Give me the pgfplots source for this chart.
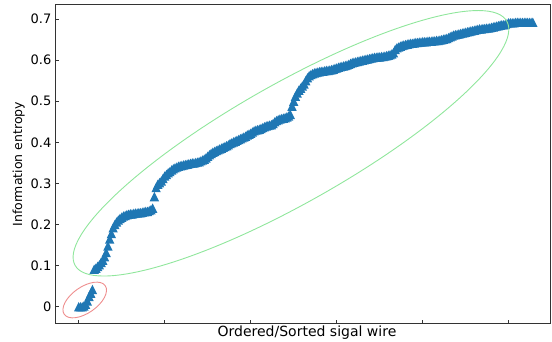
\documentclass[border=0pt]{standalone}
\usepackage{pgfplots}
\pgfplotsset{compat=1.18}
\usepackage{pgfplotstable}
\usepackage{fontspec}
\setmainfont{DejaVu Sans}

\definecolor{mplblue}{HTML}{1F77B4}
\definecolor{ringred}{HTML}{EE8E8E}
\definecolor{ringgreen}{HTML}{90E69C}

% upward triangle whose base is as wide as it is tall
\pgfdeclareplotmark{uptri}{%
  \pgfpathmoveto{\pgfqpoint{0pt}{\pgfplotmarksize}}%
  \pgfpathlineto{\pgfqpoint{-\pgfplotmarksize}{-\pgfplotmarksize}}%
  \pgfpathlineto{\pgfqpoint{\pgfplotmarksize}{-\pgfplotmarksize}}%
  \pgfpathclose
  \pgfusepathqfill}

\newcommand{\tickfont}{\fontsize{13}{15}\selectfont}
\newcommand{\ylabfont}{\fontsize{12.5}{15}\selectfont}
\newcommand{\xlabfont}{\fontsize{14}{16}\selectfont}

% information entropy of each signal wire, in sorted order
\pgfplotstableread{
x y
0 0.000
1 0.000
2 0.000
3 0.002
4 0.006
5 0.014
6 0.025
7 0.033
8 0.042
9 0.091
10 0.094
11 0.098
12 0.102
13 0.108
14 0.113
15 0.122
16 0.132
17 0.148
18 0.165
19 0.178
20 0.192
21 0.200
22 0.206
23 0.211
24 0.215
25 0.218
26 0.221
27 0.222
28 0.224
29 0.225
30 0.226
31 0.226
32 0.227
33 0.228
34 0.228
35 0.229
36 0.229
37 0.230
38 0.231
39 0.232
40 0.232
41 0.234
42 0.236
43 0.240
44 0.268
45 0.290
46 0.298
47 0.302
48 0.306
49 0.312
50 0.318
51 0.322
52 0.326
53 0.329
54 0.333
55 0.336
56 0.338
57 0.340
58 0.342
59 0.343
60 0.344
61 0.345
62 0.346
63 0.347
64 0.348
65 0.349
66 0.350
67 0.350
68 0.351
69 0.352
70 0.353
71 0.355
72 0.357
73 0.359
74 0.362
75 0.366
76 0.370
77 0.373
78 0.376
79 0.378
80 0.380
81 0.382
82 0.384
83 0.386
84 0.388
85 0.390
86 0.392
87 0.394
88 0.397
89 0.399
90 0.401
91 0.403
92 0.405
93 0.407
94 0.409
95 0.411
96 0.413
97 0.415
98 0.418
99 0.420
100 0.422
101 0.425
102 0.428
103 0.430
104 0.431
105 0.432
106 0.434
107 0.436
108 0.438
109 0.440
110 0.441
111 0.442
112 0.443
113 0.446
114 0.450
115 0.453
116 0.455
117 0.457
118 0.458
119 0.459
120 0.460
121 0.462
122 0.464
123 0.468
124 0.488
125 0.500
126 0.512
127 0.520
128 0.527
129 0.532
130 0.537
131 0.542
132 0.550
133 0.557
134 0.562
135 0.565
136 0.567
137 0.569
138 0.570
139 0.571
140 0.572
141 0.573
142 0.573
143 0.574
144 0.575
145 0.575
146 0.576
147 0.577
148 0.578
149 0.580
150 0.581
151 0.583
152 0.584
153 0.585
154 0.586
155 0.587
156 0.588
157 0.590
158 0.592
159 0.594
160 0.595
161 0.596
162 0.597
163 0.598
164 0.599
165 0.600
166 0.601
167 0.602
168 0.603
169 0.604
170 0.605
171 0.606
172 0.607
173 0.607
174 0.608
175 0.608
176 0.609
177 0.609
178 0.610
179 0.611
180 0.612
181 0.613
182 0.615
183 0.618
184 0.626
185 0.630
186 0.632
187 0.634
188 0.636
189 0.637
190 0.638
191 0.639
192 0.640
193 0.641
194 0.641
195 0.642
196 0.643
197 0.643
198 0.644
199 0.644
200 0.645
201 0.645
202 0.645
203 0.646
204 0.646
205 0.646
206 0.647
207 0.647
208 0.648
209 0.648
210 0.649
211 0.650
212 0.651
213 0.652
214 0.653
215 0.655
216 0.657
217 0.659
218 0.661
219 0.662
220 0.663
221 0.664
222 0.665
223 0.666
224 0.667
225 0.668
226 0.669
227 0.670
228 0.671
229 0.672
230 0.673
231 0.674
232 0.675
233 0.676
234 0.676
235 0.677
236 0.677
237 0.678
238 0.678
239 0.679
240 0.680
241 0.681
242 0.682
243 0.683
244 0.684
245 0.685
246 0.686
247 0.686
248 0.687
249 0.689
250 0.691
251 0.691
252 0.691
253 0.691
254 0.692
255 0.692
256 0.692
257 0.692
258 0.692
259 0.692
260 0.692
261 0.692
262 0.692
263 0.692
264 0.692
}\entropy

\begin{document}
\begin{tikzpicture}
\begin{axis}[
  scale only axis,
  width=494pt, height=319.5pt,
  xmin=-13.2, xmax=274.0,
  ymin=-0.0421, ymax=0.7353,
  xtick={0,50,100,150,200,250},
  xticklabels={},
  ytick={0,0.1,0.2,0.3,0.4,0.5,0.6,0.7},
  tick align=inside,
  xtick pos=left, ytick pos=left,
  major tick length=3.5pt,
  tick style={black!80, line width=0.8pt},
  axis line style={black!80, line width=1pt},
  /pgf/number format/assume math mode=true,
  yticklabel style={font=\tickfont, inner sep=0pt, xshift=-4.5pt},
  every axis y label/.style={at={(axis description cs:-0.0628,0.5)}, rotate=90, anchor=south, inner sep=0pt, font=\ylabfont},
  every axis x label/.style={at={(axis description cs:0.5,0)}, anchor=north, inner sep=0pt, xshift=4pt, yshift=-1.5pt, font=\xlabfont},
  xlabel={Ordered/Sorted sigal wire},
  ylabel={Information entropy},
]
\addplot[only marks, mark=uptri, mark size=4.7pt, color=mplblue] table {\entropy};
\coordinate (gc) at (axis cs:123.4,0.3976);
\coordinate (rc) at (axis cs:3.5,0.0163);
\end{axis}
% outline of the main group and of the low-entropy group
\draw[ringgreen, line width=0.9pt, rotate around={29.5:(gc)}] (gc) ellipse [x radius=248pt, y radius=59.7pt];
\draw[ringred, line width=0.9pt, rotate around={35:(rc)}] (rc) ellipse [x radius=25pt, y radius=13pt];
\pgfresetboundingbox
\useasboundingbox (-56pt,-18pt) rectangle (496pt,324pt);
\end{tikzpicture}
\end{document}
